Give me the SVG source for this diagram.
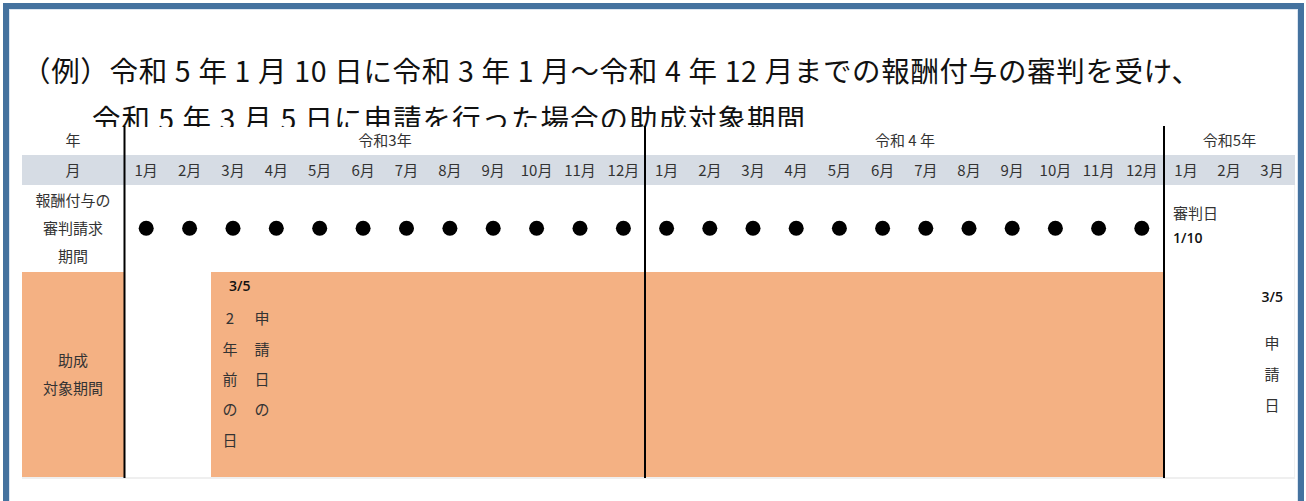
<svg xmlns="http://www.w3.org/2000/svg" width="1306" height="501" viewBox="0 0 1306 501">
<defs>
<style>
.t{font-family:"Noto Sans CJK JP","Noto Sans",sans-serif;fill:#333}
.title{font-family:"Noto Sans CJK JP",sans-serif;fill:#111;font-size:28.5px}
.m{font-size:15px;text-anchor:middle}
.n{font-family:"Open Sans","Noto Sans",sans-serif;fill:#111;font-size:14px;font-weight:600}
.sep{stroke:#000;stroke-width:2}
.dot{fill:#000}
</style>
<clipPath id="cl"><rect x="0" y="0" width="1306" height="127"/></clipPath>
</defs>
<rect width="1306" height="501" fill="#fff"/>
<g id="frame">
<rect x="6" y="6" width="1295" height="600" fill="none" stroke="#44729f" stroke-width="6"/>
<rect x="9.5" y="9.5" width="1288" height="600" fill="none" stroke="#dbe5f1" stroke-width="1"/>
</g>
<g id="title">
<text class="title" x="22" y="82" textLength="1178" lengthAdjust="spacing">（例）令和 5 年 1 月 10 日に令和 3 年 1 月～令和 4 年 12 月までの報酬付与の審判を受け、</text>
<g clip-path="url(#cl)"><text class="title" x="92" y="130" textLength="713" lengthAdjust="spacing">令和 5 年 3 月 5 日に申請を行った場合の助成対象期間</text></g>
</g>
<g id="bands">
<rect x="22" y="155" width="1273" height="30" fill="#d6dce4"/>
<rect x="22" y="272" width="102" height="205" fill="#f4b183"/>
<rect x="211" y="272" width="953" height="205" fill="#f4b183"/>
<rect x="22" y="477" width="1273" height="2" fill="#efefef"/>
<rect x="1294" y="185" width="1" height="292" fill="#f0f0f0"/>
</g>
<g id="row-labels" class="t m">
<text x="73" y="146">年</text>
<text x="73" y="175.5">月</text>
<text x="73" y="205.5">報酬付与の</text>
<text x="73" y="233.5">審判請求</text>
<text x="73" y="262">期間</text>
<text x="73" y="365.5">助成</text>
<text x="73" y="393.5">対象期間</text>
</g>
<g id="years" class="t m">
<text x="385" y="146">令和3年</text>
<text x="905" y="146">令和 4 年</text>
<text x="1229.5" y="146">令和5年</text>
</g>
<g id="months" class="t m">
<text x="146.2" y="175.5">1月</text>
<text x="189.6" y="175.5">2月</text>
<text x="233" y="175.5">3月</text>
<text x="276.3" y="175.5">4月</text>
<text x="319.7" y="175.5">5月</text>
<text x="363.1" y="175.5">6月</text>
<text x="406.5" y="175.5">7月</text>
<text x="449.9" y="175.5">8月</text>
<text x="493.2" y="175.5">9月</text>
<text x="536.6" y="175.5">10月</text>
<text x="580" y="175.5">11月</text>
<text x="623.4" y="175.5">12月</text>
<text x="666.6" y="175.5">1月</text>
<text x="709.8" y="175.5">2月</text>
<text x="753" y="175.5">3月</text>
<text x="796.2" y="175.5">4月</text>
<text x="839.4" y="175.5">5月</text>
<text x="882.6" y="175.5">6月</text>
<text x="925.8" y="175.5">7月</text>
<text x="969" y="175.5">8月</text>
<text x="1012.2" y="175.5">9月</text>
<text x="1055.4" y="175.5">10月</text>
<text x="1098.6" y="175.5">11月</text>
<text x="1141.8" y="175.5">12月</text>
<text x="1186" y="175.5">1月</text>
<text x="1229" y="175.5">2月</text>
<text x="1272" y="175.5">3月</text>
</g>
<g id="dots" class="dot">
<circle cx="146.2" cy="228.3" r="7.5"/>
<circle cx="189.6" cy="228.3" r="7.5"/>
<circle cx="233" cy="228.3" r="7.5"/>
<circle cx="276.3" cy="228.3" r="7.5"/>
<circle cx="319.7" cy="228.3" r="7.5"/>
<circle cx="363.1" cy="228.3" r="7.5"/>
<circle cx="406.5" cy="228.3" r="7.5"/>
<circle cx="449.9" cy="228.3" r="7.5"/>
<circle cx="493.2" cy="228.3" r="7.5"/>
<circle cx="536.6" cy="228.3" r="7.5"/>
<circle cx="580" cy="228.3" r="7.5"/>
<circle cx="623.4" cy="228.3" r="7.5"/>
<circle cx="666.6" cy="228.3" r="7.5"/>
<circle cx="709.8" cy="228.3" r="7.5"/>
<circle cx="753" cy="228.3" r="7.5"/>
<circle cx="796.2" cy="228.3" r="7.5"/>
<circle cx="839.4" cy="228.3" r="7.5"/>
<circle cx="882.6" cy="228.3" r="7.5"/>
<circle cx="925.8" cy="228.3" r="7.5"/>
<circle cx="969" cy="228.3" r="7.5"/>
<circle cx="1012.2" cy="228.3" r="7.5"/>
<circle cx="1055.4" cy="228.3" r="7.5"/>
<circle cx="1098.6" cy="228.3" r="7.5"/>
<circle cx="1141.8" cy="228.3" r="7.5"/>
</g>
<g id="annot-left">
<text class="n" x="229" y="291">3/5</text>
<g class="t m">
<text x="230" y="323.5">2</text>
<text x="230" y="354.5">年</text>
<text x="230" y="384.5">前</text>
<text x="230" y="414.5">の</text>
<text x="230" y="445.5">日</text>
<text x="262" y="323.5">申</text>
<text x="262" y="354.5">請</text>
<text x="262" y="384.5">日</text>
<text x="262" y="414.5">の</text>
</g>
</g>
<g id="annot-right">
<text class="t" x="1173" y="218.5" font-size="15">審判日</text>
<text class="n" x="1173" y="243">1/10</text>
<text class="n" x="1283" y="302" text-anchor="end">3/5</text>
<g class="t m">
<text x="1272" y="348.5">申</text>
<text x="1272" y="380">請</text>
<text x="1272" y="411">日</text>
</g>
</g>
<g id="connectors">
<line class="sep" x1="124.5" y1="126" x2="124.5" y2="478"/>
<line class="sep" x1="645" y1="126" x2="645" y2="478"/>
<line class="sep" x1="1164" y1="126" x2="1164" y2="478"/>
</g>
</svg>
